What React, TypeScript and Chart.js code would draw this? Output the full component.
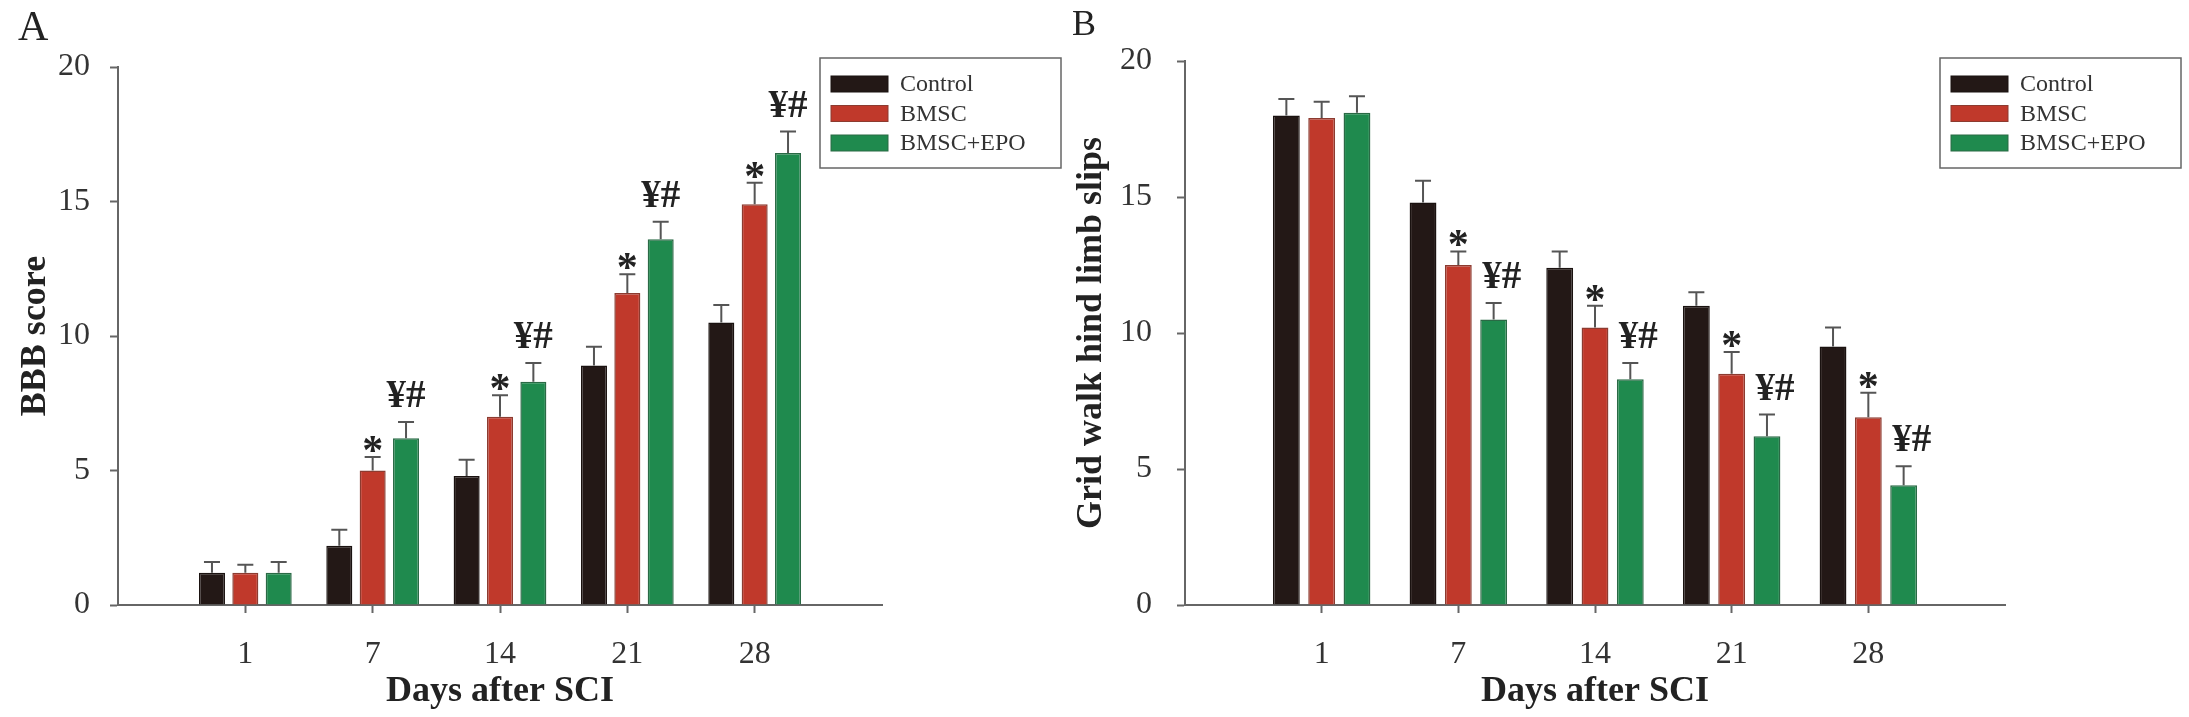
import { useEffect, useRef } from 'react';
import { Chart, registerables } from 'chart.js';

Chart.register(...registerables);

const days = ['1', '7', '14', '21', '28'];
const groups = ['Control', 'BMSC', 'BMSC+EPO'];
const yTicks = [0, 5, 10, 15, 20];

// Panel A: BBB score
const bbbControl = [1.2, 2.2, 4.8, 8.9, 10.5];
const bbbBmsc = [1.2, 5.0, 7.0, 11.6, 14.9];
const bbbEpo = [1.2, 6.2, 8.3, 13.6, 16.8];
const bbbControlErr = [0.4, 0.6, 0.6, 0.7, 0.65];
const bbbBmscErr = [0.3, 0.5, 0.8, 0.7, 0.8];
const bbbEpoErr = [0.4, 0.6, 0.7, 0.65, 0.8];

// Panel B: grid walk hind limb slips
const gridControl = [18.0, 14.8, 12.4, 11.0, 9.5];
const gridBmsc = [17.9, 12.5, 10.2, 8.5, 6.9];
const gridEpo = [18.1, 10.5, 8.3, 6.2, 4.4];
const gridControlErr = [0.6, 0.8, 0.6, 0.5, 0.7];
const gridBmscErr = [0.6, 0.5, 0.8, 0.8, 0.9];
const gridEpoErr = [0.6, 0.6, 0.6, 0.8, 0.7];

// which day groups carry a significance mark
const starMarks = [false, true, true, true, true];
const yenMarks = [false, true, true, true, true];

const colors = ['#231816', '#c0392b', '#1f8a4e'];
const edges = ['#1a1210', '#8c3b30', '#2a6a45'];
const serif = '"Liberation Serif", "Times New Roman", serif';

// one empty slot at each end so the axis runs a full step past 1 and 28
const pad = <T,>(arr: T[]): (T | null)[] => [null, ...arr, null];
const labels = ['', ...days, ''];

interface PanelProps {
  letter: string;
  letterSize: number;
  yTitle: string;
  series: number[][];
  errors: number[][];
  axisWidth: number;
  titlePad: number;
  tickPad: number;
  padRight: number;
  padTop: number;
  legendX: number;
  letterX: number;
  markDx: number;
  catPct: number;
  barPct: number;
  width: number;
}

function makeOverlay(p: PanelProps) {
  return {
    id: 'overlay' + p.letter,
    afterDatasetsDraw(chart: Chart) {
      const ctx = chart.ctx;
      const y = chart.scales.y;
      ctx.save();

      // error bars (upper whisker with cap)
      ctx.strokeStyle = '#555';
      ctx.lineWidth = 2;
      p.series.forEach((vals, di) => {
        const meta = chart.getDatasetMeta(di);
        vals.forEach((v, i) => {
          const bar: any = meta.data[i + 1];
          if (!bar) return;
          const top = y.getPixelForValue(v + p.errors[di][i]);
          const base = y.getPixelForValue(v);
          ctx.beginPath();
          ctx.moveTo(bar.x, base);
          ctx.lineTo(bar.x, top);
          ctx.moveTo(bar.x - 8, top);
          ctx.lineTo(bar.x + 8, top);
          ctx.stroke();
        });
      });

      // significance marks
      ctx.fillStyle = '#222';
      ctx.textAlign = 'center';
      ctx.textBaseline = 'alphabetic';
      days.forEach((_, i) => {
        if (starMarks[i]) {
          const bar: any = chart.getDatasetMeta(1).data[i + 1];
          const top = y.getPixelForValue(p.series[1][i] + p.errors[1][i]);
          ctx.font = `bold 42px ${serif}`;
          ctx.fillText('*', bar.x, top + 7);
        }
        if (yenMarks[i]) {
          const bar: any = chart.getDatasetMeta(2).data[i + 1];
          const top = y.getPixelForValue(p.series[2][i] + p.errors[2][i]);
          ctx.font = `bold 39px ${serif}`;
          ctx.fillText('¥#', bar.x + p.markDx, top - 15);
        }
      });

      // legend box
      const lx = p.legendX;
      const ly = 58;
      ctx.strokeStyle = '#666';
      ctx.lineWidth = 1.5;
      ctx.strokeRect(lx, ly, 241, 110);
      ctx.font = `24px ${serif}`;
      ctx.textAlign = 'left';
      ctx.textBaseline = 'middle';
      groups.forEach((g, gi) => {
        const cy = ly + 26 + gi * 29.5;
        ctx.fillStyle = colors[gi];
        ctx.fillRect(lx + 11, cy - 8, 57, 16);
        ctx.strokeStyle = edges[gi];
        ctx.lineWidth = 1;
        ctx.strokeRect(lx + 11, cy - 8, 57, 16);
        ctx.fillStyle = '#333';
        ctx.fillText(g, lx + 80, cy + 1);
      });

      // panel letter
      ctx.font = `${p.letterSize}px ${serif}`;
      ctx.fillStyle = '#222';
      ctx.textBaseline = 'top';
      ctx.fillText(p.letter, p.letterX, 8);
      ctx.restore();
    },
  };
}

function Panel(p: PanelProps) {
  const ref = useRef<HTMLCanvasElement>(null);

  useEffect(() => {
    if (!ref.current) return;
    const chart = new Chart(ref.current, {
      type: 'bar',
      data: {
        labels,
        datasets: p.series.map((vals, i) => ({
          label: groups[i],
          data: pad(vals),
          backgroundColor: colors[i],
          borderColor: edges[i],
          borderWidth: 1.5,
          categoryPercentage: p.catPct,
          barPercentage: p.barPct,
        })),
      },
      options: {
        responsive: false,
        animation: false,
        layout: { padding: { left: 0, top: p.padTop, right: p.padRight, bottom: 0 } },
        plugins: { legend: { display: false }, tooltip: { enabled: false } },
        scales: {
          x: {
            offset: false,
            grid: {
              offset: false,
              drawOnChartArea: false,
              tickLength: 8,
              tickWidth: 2,
              tickColor: (c: any) => (c.index === 0 || c.index === labels.length - 1 ? 'transparent' : '#666'),
            },
            border: { color: '#666', width: 2 },
            ticks: { color: '#333', font: { family: serif, size: 32 }, padding: 22, maxRotation: 0, autoSkip: false },
            title: {
              display: true,
              text: 'Days after SCI',
              color: '#222',
              font: { family: serif, size: 36, weight: 'bold' },
              padding: { top: 0, bottom: 4 },
            },
            afterFit: (s: any) => { s.height = 112; },
          },
          y: {
            min: 0,
            max: 20,
            afterBuildTicks: (s: any) => { s.ticks = yTicks.map(v => ({ value: v })); },
            grid: { drawOnChartArea: false, tickLength: 8, tickWidth: 2, tickColor: '#666' },
            border: { color: '#666', width: 2 },
            ticks: { color: '#333', font: { family: serif, size: 32 }, padding: p.tickPad },
            title: {
              display: true,
              text: p.yTitle,
              color: '#222',
              font: { family: serif, size: 36, weight: 'bold' },
              padding: { top: p.titlePad, bottom: 0 },
            },
            afterFit: (s: any) => { s.width = p.axisWidth; },
          },
        },
      },
      plugins: [makeOverlay(p)],
    });
    return () => chart.destroy();
  }, []);

  return <canvas ref={ref} width={p.width} height={717} style={{ width: p.width, height: 717, display: 'block' }} />;
}

export default function App() {
  return (
    <div style={{ position: 'absolute', left: 0, top: 0, width: 2189, height: 717, background: '#fff', overflow: 'hidden' }}>
      <div style={{ position: 'absolute', left: 0, top: 0 }}>
        <Panel
          letter="A"
          letterSize={42}
          yTitle="BBB score"
          series={[bbbControl, bbbBmsc, bbbEpo]}
          errors={[bbbControlErr, bbbBmscErr, bbbEpoErr]}
          axisWidth={118}
          titlePad={14}
          tickPad={20}
          padRight={212}
          padTop={67}
          legendX={820}
          letterX={18}
          markDx={0}
          catPct={0.786}
          barPct={0.78}
          width={1094}
        />
      </div>
      <div style={{ position: 'absolute', left: 1040, top: 0 }}>
        <Panel
          letter="B"
          letterSize={36}
          yTitle="Grid walk hind limb slips"
          series={[gridControl, gridBmsc, gridEpo]}
          errors={[gridControlErr, gridBmscErr, gridEpoErr]}
          axisWidth={145}
          titlePad={30}
          tickPad={25}
          padRight={184}
          padTop={61}
          legendX={900}
          letterX={32}
          markDx={8}
          catPct={0.775}
          barPct={0.76}
          width={1149}
        />
      </div>
    </div>
  );
}
